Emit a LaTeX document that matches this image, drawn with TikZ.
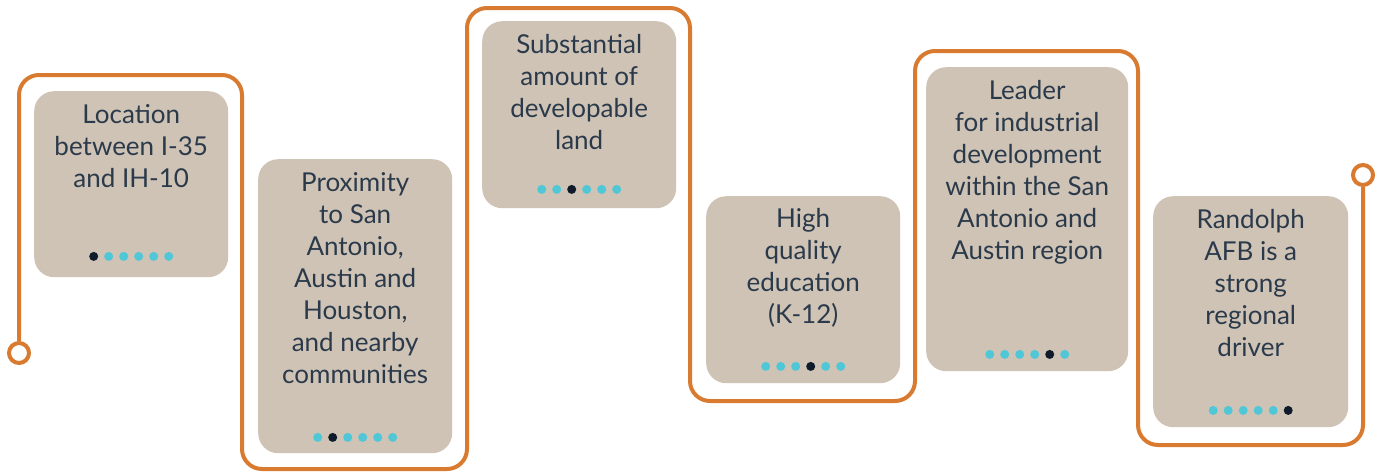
\documentclass[tikz,border=0pt]{standalone}
\usepackage{fontspec}
\setmainfont{Lato}
\usetikzlibrary{positioning}
\usepackage{xcolor}

\definecolor{trailorange}{HTML}{D87B30}
\definecolor{cardtan}{HTML}{CFC3B5}
\definecolor{inknavy}{HTML}{2B3A4B}
\definecolor{dotcyan}{HTML}{4FC7D7}
\definecolor{dotnavy}{HTML}{0F1B2B}

\tikzset{
  card/.style={fill=cardtan, draw=none, rounded corners=20pt, inner sep=0pt, anchor=north west},
  cardtext/.style={anchor=north, align=center, inner sep=0pt, text=inknavy, font=\fontsize{26}{32}\selectfont},
  trail/.style={draw=trailorange, line width=4pt, rounded corners=20pt},
  endring/.style={circle, draw=trailorange, line width=4pt, fill=white, minimum size=20pt, inner sep=0pt},
  stepdot/.style={circle, fill=dotcyan, minimum size=9pt, inner sep=0pt},
  stepdotnow/.style={stepdot, fill=dotnavy}
}

% row of six dots under a card, #2 is the dark one
\newcommand{\stepdots}[3]{
  \foreach \k in {1,...,6}{
    \ifnum\k=#2
      \node[stepdotnow] (#1-\k) at ([xshift={(\k-3.5)*15pt}, yshift=#3pt]#1.south) {};
    \else
      \node[stepdot] (#1-\k) at ([xshift={(\k-3.5)*15pt}, yshift=#3pt]#1.south) {};
    \fi
  }
}

\begin{document}
\begin{tikzpicture}[x=1pt,y=-1pt]
\useasboundingbox (0,0) rectangle (1381,472);

%%%%%%%%%%%%    cards   %%%%%%%%%%%%
\node[card, minimum width=194pt, minimum height=186pt] (loc) at (34,91) {};
\node[card, minimum width=194pt, minimum height=294pt] (prox) at (258,159) {};
\node[card, minimum width=194pt, minimum height=187pt] (land) at (482,21) {};
\node[card, minimum width=194pt, minimum height=187pt] (educ) at (706,196) {};
\node[card, minimum width=202pt, minimum height=304pt] (lead) at (926,67) {};
\node[card, minimum width=195pt, minimum height=231pt] (afb) at (1153,196) {};

% labeling
\node[cardtext] (loc-t) at ([yshift=-13pt]loc.north) {Location\\between I-35\\and IH-10};
\node[cardtext] (prox-t) at ([yshift=-13pt]prox.north) {Proximity\\to San\\Antonio,\\Austin and\\Houston,\\and nearby\\communities};
\node[cardtext] (land-t) at ([yshift=-13pt]land.north) {Substantial\\amount of\\developable\\land};
\node[cardtext] (educ-t) at ([yshift=-12pt]educ.north) {High\\quality\\education\\(K-12)};
\node[cardtext] (lead-t) at ([yshift=-13pt]lead.north) {Leader\\for industrial\\development\\within the San\\Antonio and\\Austin region};
\node[cardtext] (afb-t) at ([yshift=-13pt]afb.north) {Randolph\\AFB is a\\strong\\regional\\driver};

%%%%%%%%%%%%    dots   %%%%%%%%%%%%
\stepdots{loc}{1}{21}
\stepdots{prox}{2}{16}
\stepdots{land}{3}{19}
\stepdots{educ}{4}{17}
\stepdots{lead}{5}{17}
\stepdots{afb}{6}{17}

%%%%%%%%%%%%    orange trail   %%%%%%%%%%%%
\node[endring] (begin) at (19,353) {};
\node[endring] (finish) at (1363,175) {};
\draw[trail] (begin.north)--(19,75)--(242,75)--(242,469)--(467,469)--(467,8)--(690,8)--(690,401)--(915,401)--(915,51)--(1138,51)--(1138,445)--(1363,445)--(finish.south);

\end{tikzpicture}
\end{document}
